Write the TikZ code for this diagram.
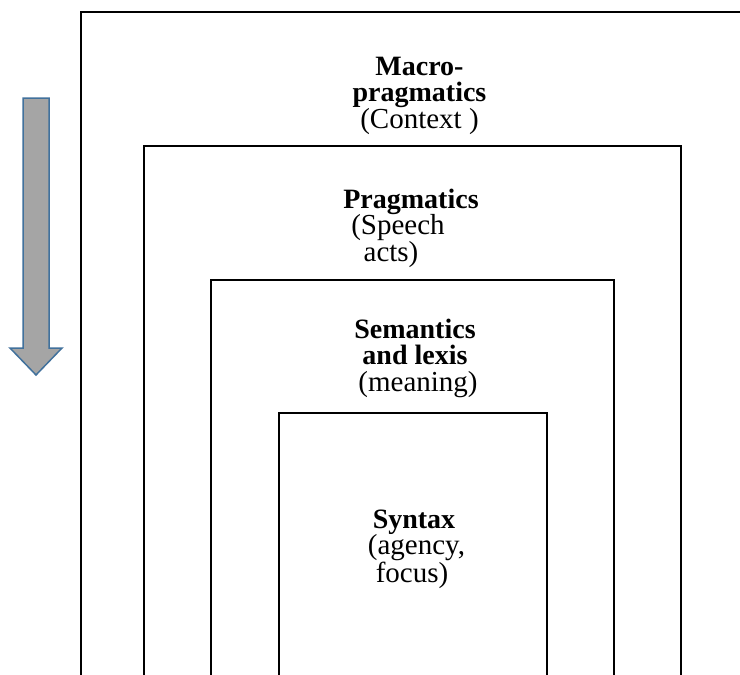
\documentclass[tikz,border=0pt]{standalone}
\usepackage{fontspec}
\setmainfont{Liberation Serif}
\definecolor{arrowgray}{HTML}{A5A5A5}
\definecolor{arrowblue}{HTML}{41719C}
% regular-weight line inside a bold label
\newcommand{\plainline}[1]{{\fontsize{29}{26.5}\selectfont\mdseries #1}}
% invisible spacer used to shift a centred line sideways
\newcommand{\padding}[1]{\rule{#1}{0pt}}
\tikzset{
  frame/.style={draw=black, line width=1.7pt, line join=miter},
  bigarrow/.style={fill=arrowgray, draw=arrowblue, line width=1.5pt, line join=miter},
  levellabel/.style={font=\fontsize{28}{26.5}\selectfont\bfseries, align=center,
    anchor=north, inner sep=0pt}
}
\begin{document}
\begin{tikzpicture}[x=1pt,y=-1pt]
\useasboundingbox (0,0) rectangle (740,675);
\fill[white] (0,0) rectangle (740,675);

% nested levels, open at the bottom
\draw[frame] (81,675) -- (81,12) -- (742,12);
\draw[frame] (144,675) -- (144,146) -- (681,146) -- (681,675);
\draw[frame] (211,675) -- (211,280) -- (614,280) -- (614,675);
\draw[frame] (279,675) -- (279,413) -- (547,413) -- (547,675);

% downward arrow
\draw[bigarrow] (23,98) -- (49,98) -- (49,348) -- (62,348) -- (36,375)
  -- (10,348) -- (23,348) -- cycle;

% level labels (top of each node = cap height above the first baseline)
\node[levellabel] (macro) at (419.5,56.5)
  {Macro-\\pragmatics\\\plainline{(Context )}};
\node[levellabel] (prag) at (411,188.5)
  {Pragmatics\\\plainline{(Speech\padding{26pt}}\\\plainline{acts)\padding{40pt}}};
\node[levellabel] (sem) at (415,318.5)
  {Semantics\\and lexis\\\plainline{\padding{6pt}(meaning)}};
\node[levellabel] (syn) at (414,509.5)
  {Syntax\\\plainline{\padding{5pt}(agency,}\\\plainline{focus)\padding{4pt}}};
\end{tikzpicture}
\end{document}
